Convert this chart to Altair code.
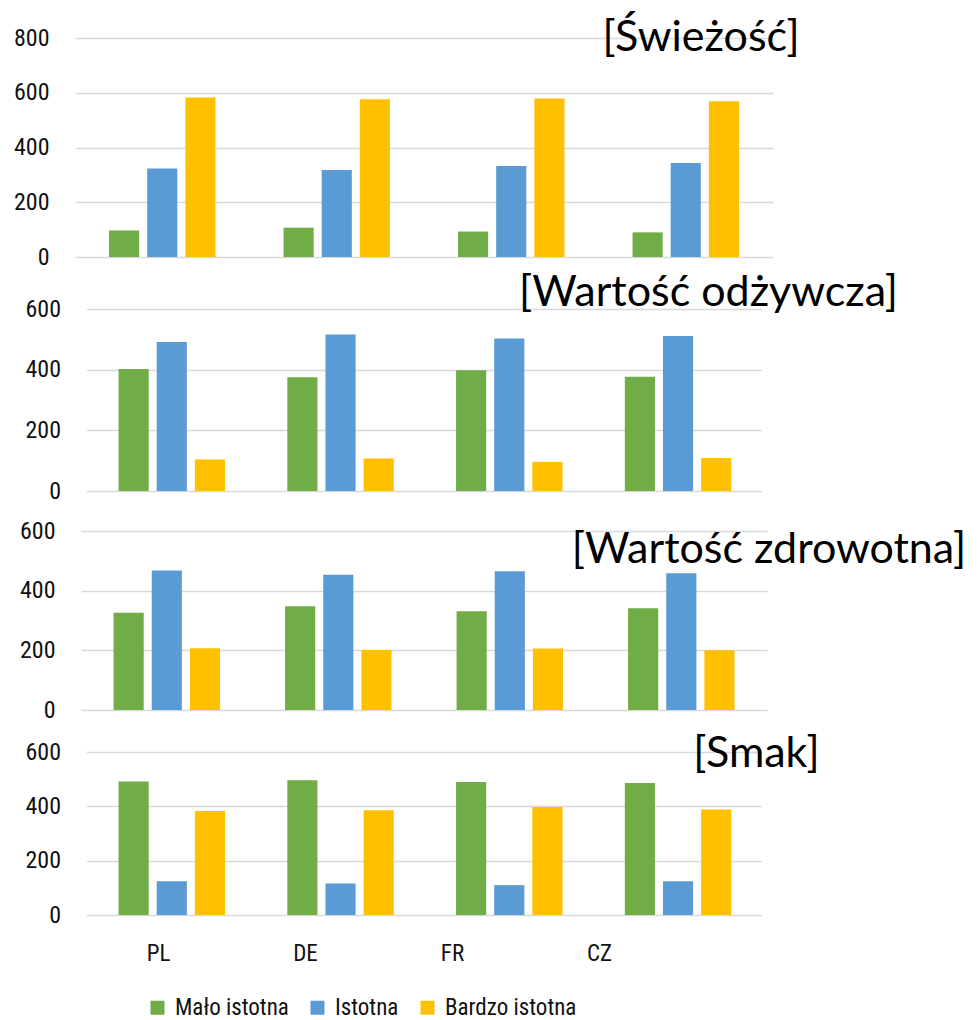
import altair as alt
import pandas as pd

countries = ["PL", "DE", "FR", "CZ"]
series = ["Mało istotna", "Istotna", "Bardzo istotna"]
colors = ["#70AD47", "#5B9BD5", "#FFC000"]

titles = ["[Świeżość]", "[Wartość odżywcza]", "[Wartość zdrowotna]", "[Smak]"]

fresh_malo = [97, 107, 93, 90]
fresh_ist = [323, 318, 332, 343]
fresh_bardzo = [583, 576, 579, 569]

nutri_malo = [402, 375, 398, 377]
nutri_ist = [491, 516, 503, 511]
nutri_bardzo = [104, 107, 96, 109]

health_malo = [326, 348, 331, 341]
health_ist = [468, 453, 465, 458]
health_bardzo = [207, 201, 206, 200]

taste_malo = [491, 496, 490, 486]
taste_ist = [124, 116, 110, 124]
taste_bardzo = [383, 386, 398, 388]

panels_values = [
    (fresh_malo, fresh_ist, fresh_bardzo),
    (nutri_malo, nutri_ist, nutri_bardzo),
    (health_malo, health_ist, health_bardzo),
    (taste_malo, taste_ist, taste_bardzo),
]

y_ticks_800 = [0, 200, 400, 600, 800]
y_ticks_600 = [0, 200, 400, 600]

NARROW = "Liberation Sans Narrow, Roboto Condensed, DejaVu Sans Condensed, sans-serif"
TITLE_FONT = "Lato"

# layout: (width, cell height, plot height, ymax, ticks, x paddingInner, title dx, title dy)
layout = [
    (698, 271, 219, 800, y_ticks_800, 0.39, 626, 0),
    (675, 222, 182, 600, y_ticks_600, 0.38, 622, -16),
    (686, 221, 179, 600, y_ticks_600, 0.38, 688, 19),
    (675, 163, 163, 600, y_ticks_600, 0.38, 670, 2),
]


def make_panel(i):
    w, h, ph, ymax, ticks, pin, tdx, tdy = layout[i]
    vals = panels_values[i]
    rows = []
    for s, arr in zip(series, vals):
        for c, v in zip(countries, arr):
            rows.append({"country": c, "series": s, "value": v})
    df = pd.DataFrame(rows)
    bars = alt.Chart(df).mark_bar().encode(
        x=alt.X("country:N", sort=countries,
                scale=alt.Scale(paddingInner=pin, paddingOuter=pin / 2),
                axis=None),
        xOffset=alt.XOffset("series:N", sort=series,
                            scale=alt.Scale(paddingInner=0.21, paddingOuter=0)),
        y=alt.Y("value:Q",
                scale=alt.Scale(domain=[0, ymax], range=[ph, 0], nice=False),
                axis=alt.Axis(values=ticks, title=None, domain=False, ticks=False,
                              tickSize=0, labelPadding=26, grid=True,
                              gridColor="#D9D9D9", gridWidth=1.5,
                              labelFont=NARROW, labelFontSize=24,
                              labelColor="#111111")),
        color=alt.Color("series:N", sort=series,
                        scale=alt.Scale(domain=series, range=colors),
                        legend=alt.Legend(orient="none", legendX=71, legendY=958,
                                          direction="horizontal", title=None,
                                          symbolType="square", symbolSize=196,
                                          symbolStrokeWidth=0, labelFont=NARROW,
                                          labelFontSize=23, labelColor="#111111",
                                          columnPadding=17, labelOffset=6,
                                          padding=0)),
    )
    tdf = pd.DataFrame({"t": [titles[i]]})
    title = alt.Chart(tdf).mark_text(
        font=TITLE_FONT, fontSize=43, color="#000000", baseline="middle", align="center"
    ).encode(text="t:N", x=alt.value(tdx), y=alt.value(tdy))
    return alt.layer(bars, title).properties(width=w, height=h)


label_df = pd.DataFrame({"country": countries})
labels_panel = alt.Chart(label_df).mark_point(opacity=0).encode(
    x=alt.X("country:N", sort=countries, scale=alt.Scale(range=[0, 588]),
            axis=alt.Axis(title=None, domain=False, ticks=False, tickSize=0,
                          labelPadding=4, labelFont=NARROW, labelFontSize=23,
                          labelColor="#111111", labelAngle=0, grid=False))
).properties(width=679, height=23)

chart = alt.vconcat(
    make_panel(0), make_panel(1), make_panel(2), make_panel(3), labels_panel,
    spacing=0, bounds="flush", center=True
).properties(
    background="white",
    padding={"left": 5, "top": 9, "right": 0, "bottom": 0},
).configure_view(stroke=None, strokeWidth=0)

chart.save("out.html", embed_options={"renderer": "svg", "actions": False})
